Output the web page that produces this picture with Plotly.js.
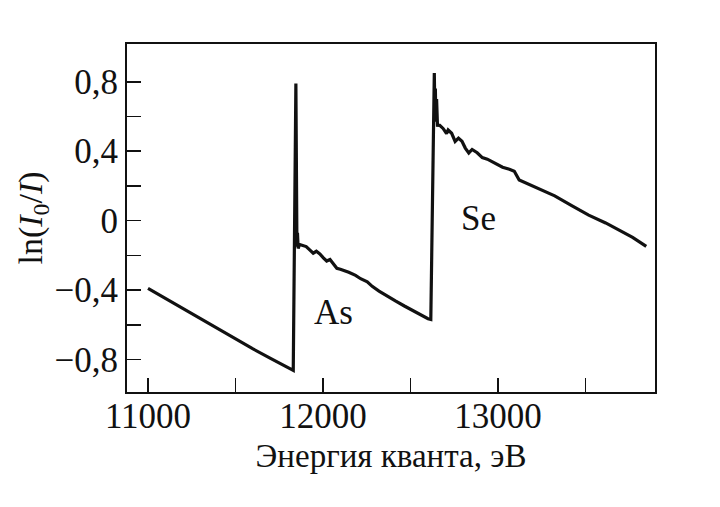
<!DOCTYPE html>
<html>
<head>
<meta charset="utf-8">
<script src="https://cdn.plot.ly/plotly-3.0.1.min.js"></script>
<style>html,body{margin:0;padding:0;background:#fff;}#chart{width:720px;height:507px;}</style>
</head>
<body>
<div id="chart"></div>
<script>
// Photon energy, eV
const energy = [11000, 11100, 11200, 11300, 11400, 11500, 11600, 11700, 11800, 11830,
  11845, 11848, 11851, 11854, 11858, 11866, 11904, 11924, 11944, 11962, 11982, 12002,
  12021, 12040, 12060, 12079, 12099, 12118, 12147, 12186, 12215, 12253, 12281, 12320,
  12368, 12416, 12465, 12513, 12562, 12600, 12616,
  12636, 12639, 12642, 12645, 12649, 12654, 12667, 12686, 12706, 12715, 12735, 12755,
  12774, 12794, 12813, 12833, 12852, 12881, 12910, 12939, 12968, 12997, 13026, 13065,
  13093, 13121, 13227, 13324, 13421, 13518, 13615, 13712, 13769, 13847];
// ln(I0/I)
const lnRatio = [-0.39, -0.448, -0.505, -0.565, -0.625, -0.683, -0.738, -0.792, -0.845, -0.862,
  0.79, -0.05, -0.15, -0.07, -0.16, -0.137, -0.149, -0.168, -0.187, -0.176, -0.191, -0.214,
  -0.232, -0.223, -0.251, -0.274, -0.279, -0.288, -0.297, -0.315, -0.334, -0.352, -0.378, -0.405,
  -0.436, -0.463, -0.491, -0.518, -0.546, -0.564, -0.568,
  0.85, 0.62, 0.76, 0.57, 0.70, 0.55, 0.549, 0.531, 0.502, 0.522, 0.503, 0.456,
  0.475, 0.457, 0.418, 0.390, 0.410, 0.391, 0.363, 0.354, 0.340, 0.327, 0.308, 0.296,
  0.285, 0.234, 0.188, 0.143, 0.087, 0.032, -0.013, -0.068, -0.096, -0.148];

const xTickVals = [11000, 12000, 13000];
const xTickText = ['11000', '12000', '13000'];
const xMinorVals = [11500, 12500, 13500];
const yTickVals = [-0.8, -0.4, 0, 0.4, 0.8];
const yTickText = ['\u22120,8', '\u22120,4', '0', '0,4', '0,8'];
const yMinorVals = [-0.6, -0.2, 0.2, 0.6];

const edgeLabels = ['As', 'Se'];
const edgeLabelX = [12060, 12890];
const edgeLabelY = [-0.53, 0.01];

const serif = 'Liberation Serif, Times New Roman, serif';
const ink = '#111111';

const trace = {
  x: energy, y: lnRatio, type: 'scatter', mode: 'lines',
  line: {color: ink, width: 3.2},
  hoverinfo: 'skip'
};

const annotations = edgeLabels.map((t, i) => ({
  x: edgeLabelX[i], y: edgeLabelY[i], xref: 'x', yref: 'y', text: t,
  showarrow: false, font: {family: serif, size: 35, color: ink}
}));

const minorStyle = {ticks: 'inside', ticklen: 14, tickwidth: 1.6, tickcolor: ink, showgrid: false, tickmode: 'array'};

const layout = {
  width: 720, height: 507,
  margin: {l: 127, r: 65, t: 44, b: 115, autoexpand: false},
  paper_bgcolor: '#ffffff', plot_bgcolor: '#ffffff',
  showlegend: false,
  font: {family: serif, size: 35, color: ink},
  xaxis: {
    range: [10880, 13897], showgrid: false, zeroline: false,
    showline: true, linecolor: ink, linewidth: 2, mirror: true,
    ticks: 'inside', ticklen: 14, tickwidth: 1.6, tickcolor: ink,
    tickmode: 'array', tickvals: xTickVals, ticktext: xTickText,
    minor: Object.assign({tickvals: xMinorVals}, minorStyle),
    ticklabelstandoff: -8,
    tickfont: {family: serif, size: 35, color: ink},
    title: {text: 'Энергия кванта, эВ', font: {family: serif, size: 33, color: ink}, standoff: 9}
  },
  yaxis: {
    range: [-0.986, 1.017], showgrid: false, zeroline: false,
    showline: true, linecolor: ink, linewidth: 2, mirror: true,
    ticks: 'inside', ticklen: 14, tickwidth: 1.6, tickcolor: ink,
    tickmode: 'array', tickvals: yTickVals, ticktext: yTickText,
    minor: Object.assign({tickvals: yMinorVals}, minorStyle),
    tickfont: {family: serif, size: 35, color: ink},
    title: {text: 'ln(<i>I</i><sub>0</sub>/<i>I</i>)', font: {family: serif, size: 34, color: ink}, standoff: 2}
  },
  annotations: annotations
};

Plotly.newPlot('chart', [trace], layout, {staticPlot: true, displayModeBar: false});
</script>
</body>
</html>
